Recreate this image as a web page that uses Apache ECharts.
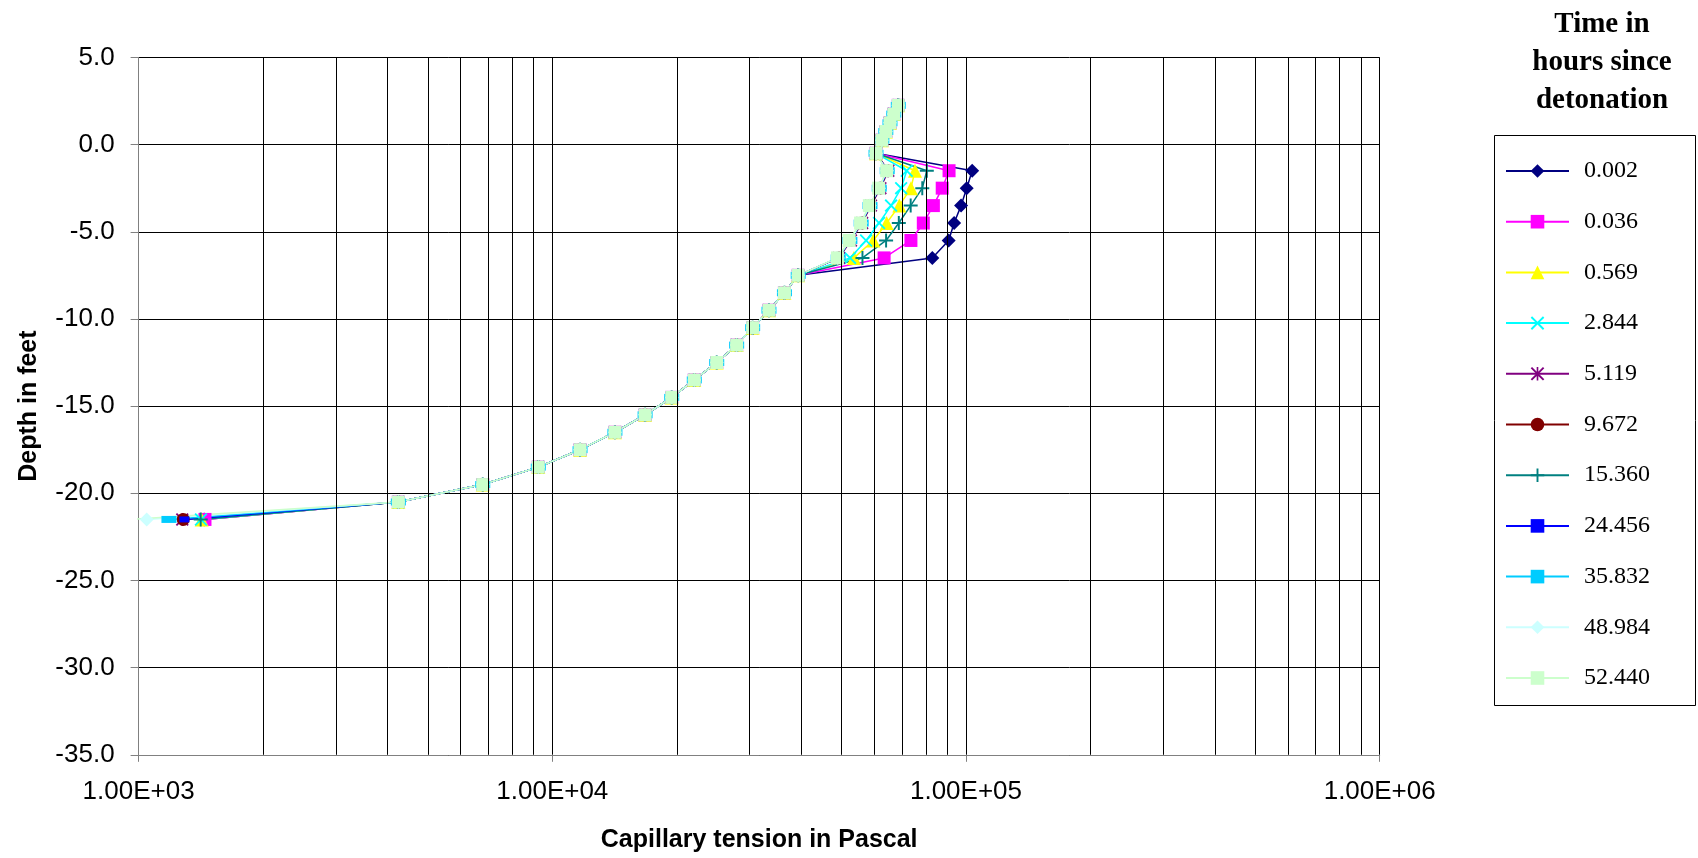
<!DOCTYPE html>
<html>
<head>
<meta charset="utf-8">
<title>Capillary tension profile</title>
<script src="https://cdn.jsdelivr.net/npm/echarts@6/dist/echarts.min.js"></script>
<style>
  html, body { margin: 0; padding: 0; background: #ffffff; }
  #chart { width: 1698px; height: 858px; }
</style>
</head>
<body>
<div id="chart"></div>
<script>
// Depth of each observation point (feet), top of profile first
const depths = [2.25, 1.75, 1.25, 0.75, 0.25, -0.5,
  -1.5, -2.5, -3.5, -4.5, -5.5, -6.5,
  -7.5, -8.5, -9.5, -10.5, -11.5, -12.5, -13.5, -14.5, -15.5, -16.5, -17.5, -18.5, -19.5, -20.5,
  -21.5];

// Capillary tension (Pa) shared by every time step above -1.5 ft
const nearSurface = [68600, 66900, 65500, 64000, 62600, 60600];
// Capillary tension (Pa) shared by every time step from -7.5 ft to -20.5 ft
const deepProfile = [39300, 36400, 33400, 30500, 27900, 24970, 22040, 19440, 16760, 14170, 11670, 9250, 6790, 4245];

// Time steps (hours since detonation)
const times = ['0.002', '0.036', '0.569', '2.844', '5.119', '9.672', '15.360', '24.456', '35.832', '48.984', '52.440'];

// Tension (Pa) in the disturbed zone, -1.5 ft to -6.5 ft, per time step
const zone0002 = [103500, 100400, 97300, 93600, 90800, 82900];
const zone0036 = [91000, 87600, 83400, 78850, 73600, 63400];
const zone0569 = [75300, 73600, 69000, 64300, 59700, 53600];
const zone2844 = [71900, 69700, 65900, 61650, 57350, 52450];
const zone5119 = [64900, 62100, 58900, 56100, 52700, 49300];
const zone9672 = [64700, 61900, 58800, 55900, 52500, 49200];
const zone15360 = [80400, 78400, 73500, 68800, 64100, 56200];
const zone24456 = [64600, 61800, 58700, 55800, 52400, 49100];
const zone35832 = [64500, 61700, 58600, 55800, 52400, 49100];
const zone48984 = [64400, 61600, 58500, 55700, 52300, 49000];
const zone52440 = [64300, 61500, 58400, 55600, 52200, 48900];

// Tension (Pa) at the deepest point, -21.5 ft, per time step
const bottomTension = [1440, 1447, 1420, 1415, 1275, 1282, 1413, 1290, 1184, 1046, 950];

// X-axis tick labels and the minor decade lines of the log grid
const xTickLabels = ['1.00E+03', '1.00E+04', '1.00E+05', '1.00E+06'];
const minorGrid = [2000, 3000, 4000, 5000, 6000, 7000, 8000, 9000,
  20000, 30000, 40000, 50000, 60000, 70000, 80000, 90000,
  200000, 300000, 400000, 500000, 600000, 700000, 800000, 900000];

// Marker outlines drawn as filled paths
const X_PATH = 'path://M0,1L1,0L5,4L9,0L10,1L6,5L10,9L9,10L5,6L1,10L0,9L4,5Z';
const PLUS_PATH = 'path://M4.3,0H5.7V4.3H10V5.7H5.7V10H4.3V5.7H0V4.3H4.3Z';
const STAR_PATH = 'path://M0,1L1,0L5,4L9,0L10,1L6,5L10,9L9,10L5,6L1,10L0,9L4,5ZM4.4,0H5.6V10H4.4Z';

const zones = [zone0002, zone0036, zone0569, zone2844, zone5119, zone9672,
  zone15360, zone24456, zone35832, zone48984, zone52440];

const styles = [
  { color: '#000080', symbol: 'diamond', size: 14 },
  { color: '#FF00FF', symbol: 'rect', size: 13 },
  { color: '#FFFF00', symbol: 'triangle', size: 14 },
  { color: '#00FFFF', symbol: X_PATH, size: 13 },
  { color: '#800080', symbol: STAR_PATH, size: 13 },
  { color: '#800000', symbol: 'circle', size: 13 },
  { color: '#008080', symbol: PLUS_PATH, size: 14 },
  { color: '#0000FF', symbol: 'rect', size: [10, 6] },
  { color: '#00CCFF', symbol: 'rect', size: [15, 7] },
  { color: '#CCFFFF', symbol: 'diamond', size: 14 },
  { color: '#CCFFCC', symbol: 'rect', size: 13 }
];

const AXIS_FONT = 'Liberation Sans, Arial, sans-serif';
const SERIF_FONT = 'Liberation Serif, Times New Roman, serif';

function profile(i) {
  const tension = [...nearSurface, ...zones[i], ...deepProfile, bottomTension[i]];
  return depths.map((d, k) => [tension[k], d]);
}

const series = [{
  name: 'grid-minor',
  type: 'line',
  data: [],
  z: 1,
  silent: true,
  markLine: {
    silent: true,
    symbol: 'none',
    label: { show: false },
    animation: false,
    lineStyle: { color: '#000000', width: 1, type: 'solid' },
    data: minorGrid.map(v => ({ xAxis: v }))
  }
}];

times.forEach((t, i) => {
  const s = styles[i];
  series.push({
    name: t,
    type: 'line',
    z: 3,
    data: profile(i),
    clip: true,
    symbol: s.symbol,
    symbolSize: s.size,
    showAllSymbol: true,
    lineStyle: { color: s.color, width: 1.5 },
    itemStyle: { color: s.color, borderWidth: 0 },
    emphasis: { disabled: true }
  });
});

const chart = echarts.init(document.getElementById('chart'), null, { renderer: 'canvas' });

chart.setOption({
  animation: false,
  backgroundColor: '#ffffff',
  title: {
    text: 'Time in\nhours since\ndetonation',
    left: 1597,
    top: 1,
    textAlign: 'center',
    textStyle: {
      fontFamily: SERIF_FONT,
      fontWeight: 'bold',
      fontSize: 29,
      lineHeight: 38,
      color: '#000000'
    }
  },
  graphic: [{
    type: 'rect',
    shape: { x: 1494.5, y: 135.5, width: 201, height: 570 },
    style: { fill: 'none', stroke: '#000000', lineWidth: 1 },
    silent: true
  }],
  legend: {
    data: times,
    orient: 'vertical',
    left: 1505,
    top: 159,
    padding: 0,
    itemWidth: 63,
    itemHeight: 17,
    itemGap: 26.7,
    selectedMode: false,
    textStyle: {
      fontFamily: SERIF_FONT,
      fontSize: 24,
      lineHeight: 24,
      color: '#000000',
      padding: [0, 0, 0, 10]
    }
  },
  grid: {
    left: 138.6,
    right: 318.3,
    top: 57.4,
    bottom: 103.2,
    containLabel: false
  },
  xAxis: {
    type: 'log',
    logBase: 10,
    min: 1000,
    max: 1000000,
    name: 'Capillary tension in Pascal',
    nameLocation: 'middle',
    nameGap: 73,
    nameTextStyle: { fontFamily: AXIS_FONT, fontWeight: 'bold', fontSize: 25, color: '#000000' },
    axisLine: { show: true, onZero: false, lineStyle: { color: '#808080', width: 1 } },
    axisTick: { show: true, inside: false, length: 7, lineStyle: { color: '#808080' } },
    axisLabel: {
      fontFamily: AXIS_FONT,
      fontSize: 26,
      color: '#000000',
      margin: 24,
      formatter: v => xTickLabels[Math.round(Math.log10(v)) - 3]
    },
    splitLine: { show: true, lineStyle: { color: '#000000', width: 1 } }
  },
  yAxis: {
    type: 'value',
    min: -35,
    max: 5,
    interval: 5,
    name: 'Depth in feet',
    nameLocation: 'middle',
    nameRotate: 90,
    nameGap: 97,
    nameTextStyle: { fontFamily: AXIS_FONT, fontWeight: 'bold', fontSize: 25, color: '#000000' },
    axisLine: { show: true, onZero: false, lineStyle: { color: '#808080', width: 1 } },
    axisTick: { show: true, inside: false, length: 8, lineStyle: { color: '#808080' } },
    axisLabel: {
      fontFamily: AXIS_FONT,
      fontSize: 26,
      color: '#000000',
      margin: 24,
      formatter: v => v.toFixed(1)
    },
    splitLine: { show: true, lineStyle: { color: '#000000', width: 1 } }
  },
  series: series
});
</script>
</body>
</html>
